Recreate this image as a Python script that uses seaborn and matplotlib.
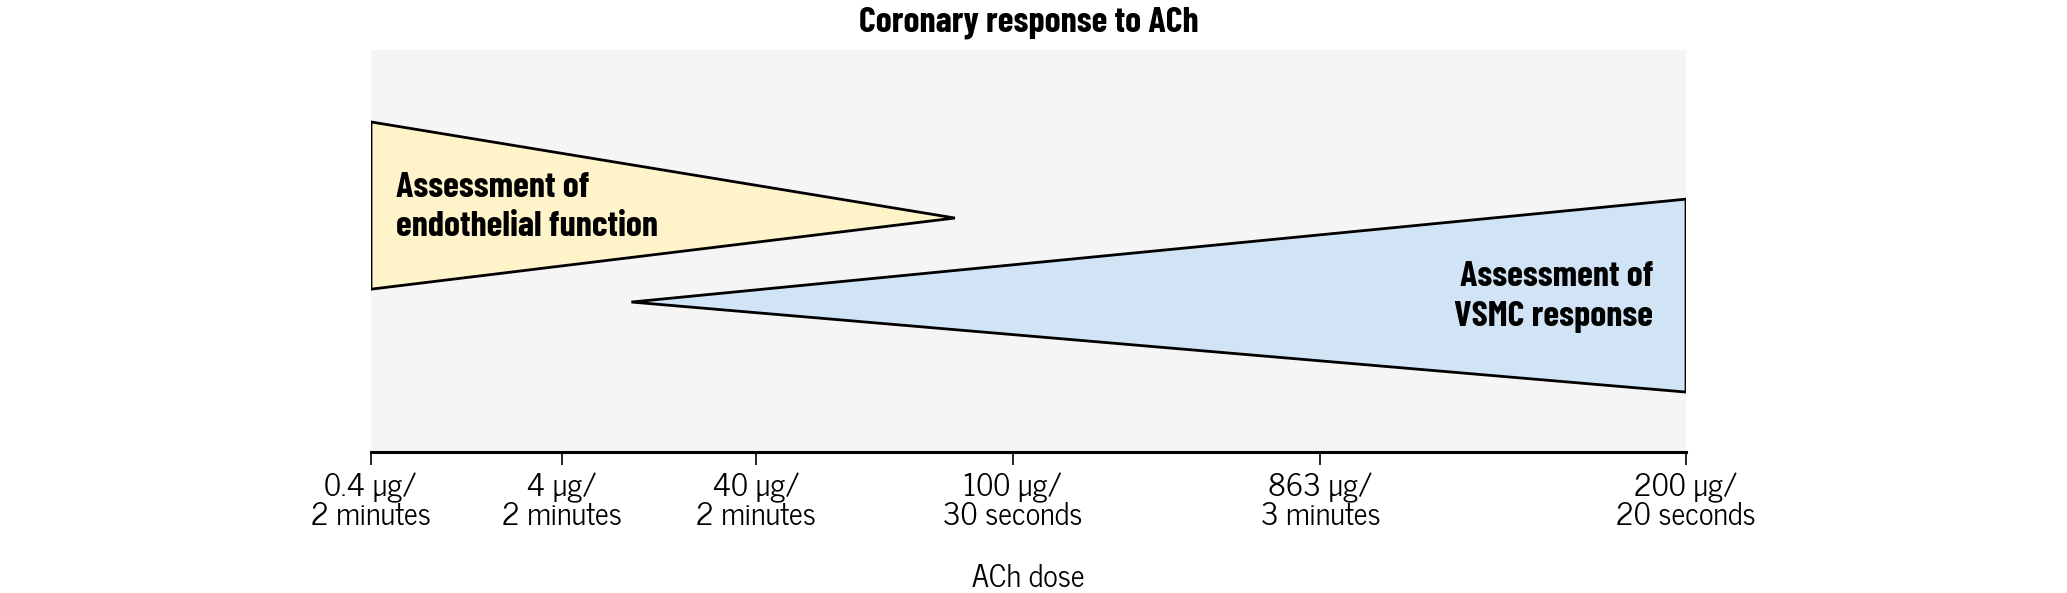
import matplotlib
matplotlib.use("Agg")
import matplotlib.pyplot as plt
import seaborn as sns

# dose steps along the x axis (position as fraction of axis length)
dose_labels = ["0.4 µg/\n2 minutes", "4 µg/\n2 minutes", "40 µg/\n2 minutes",
               "100 µg/\n30 seconds", "863 µg/\n3 minutes", "200 µg/\n20 seconds"]
dose_pos = [0.0, 0.145, 0.293, 0.488, 0.722, 1.0]

# endothelial function wedge (narrows with dose)
endo_x = [0.0, 0.0, 0.444]
endo_y = [0.821, 0.405, 0.582]

# VSMC response wedge (widens with dose)
vsmc_x = [0.198, 1.0, 1.0]
vsmc_y = [0.373, 0.629, 0.149]

sns.set_theme(style="white")
bold_font = ["Barlow Condensed", "DejaVu Sans"]
plain_font = ["News Cycle", "DejaVu Sans"]
plt.rcParams["font.family"] = plain_font
plt.rcParams["text.color"] = "black"
plt.rcParams["xtick.color"] = "black"
plt.rcParams["axes.labelcolor"] = "black"

fig = plt.figure(figsize=(20.67, 5.93), dpi=100)
ax = fig.add_axes([0.1795, 0.2378, 0.6362, 0.6779])
ax.set_facecolor("#f5f5f5")

ax.fill(endo_x, endo_y, facecolor="#fff4c9", edgecolor="black", linewidth=2, zorder=2)
ax.fill(vsmc_x, vsmc_y, facecolor="#d1e4f6", edgecolor="black", linewidth=2, zorder=2)

ax.text(0.019, 0.608, "Assessment of\nendothelial function", ha="left", va="center",
        family=bold_font, fontsize=26, fontweight="bold", linespacing=1.3, zorder=3)
ax.text(0.975, 0.385, "Assessment of\nVSMC response", ha="right", va="center",
        family=bold_font, fontsize=26, fontweight="bold", linespacing=1.3, zorder=3)

ax.text(0.5, 1.045, "Coronary response to ACh", transform=ax.transAxes,
        ha="center", va="baseline", family=bold_font, fontsize=26, fontweight="bold")

ax.set_xlim(0, 1)
ax.set_ylim(0, 1)
ax.set_yticks([])
ax.set_xticks(dose_pos)
ax.set_xticklabels(dose_labels, fontsize=22, linespacing=0.95)
ax.tick_params(axis="x", direction="out", length=9, width=1.2, color="black",
               pad=6, bottom=True)

ax.set_xlabel("ACh dose", fontsize=22, va="baseline")
ax.xaxis.set_label_coords(0.5, -0.335)

sns.despine(ax=ax, left=True, top=True, right=True)
ax.spines["bottom"].set_color("black")
ax.spines["bottom"].set_linewidth(2.2)

fig.savefig("out.png", dpi=100, facecolor="white")
